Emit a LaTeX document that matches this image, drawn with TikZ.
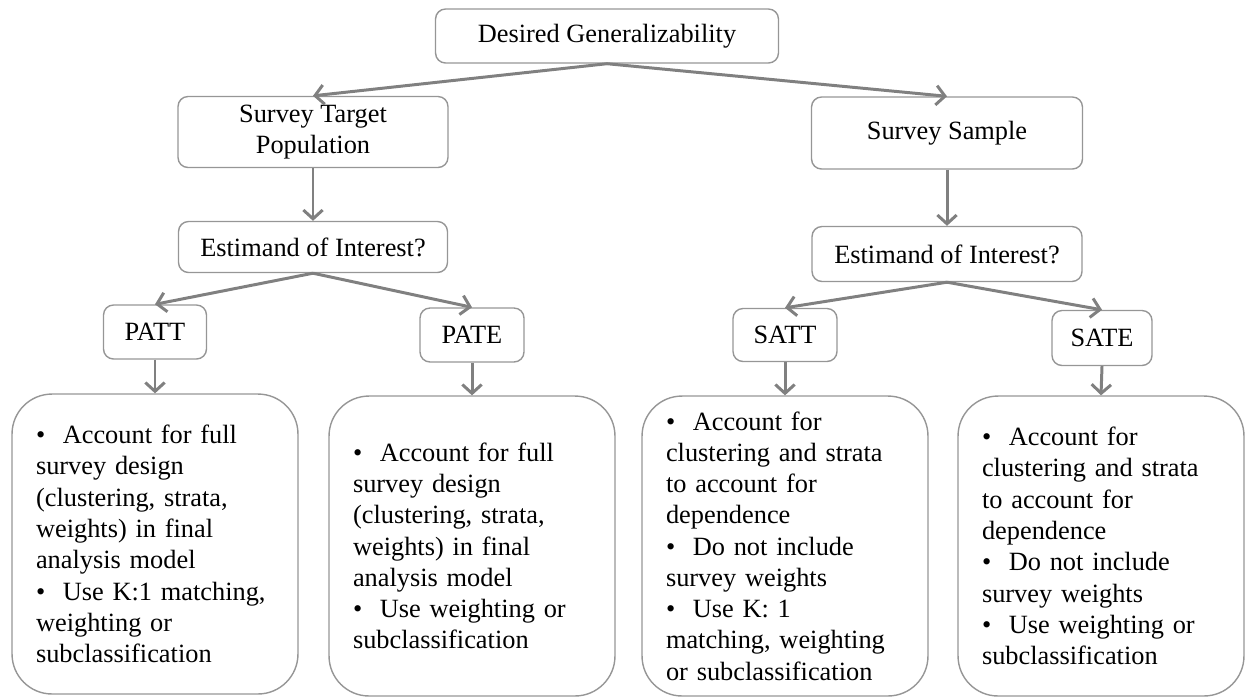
\documentclass[tikz,border=0pt]{standalone}
\usepackage{fontspec}
\setmainfont{Liberation Serif}
\usetikzlibrary{arrows.meta}
\definecolor{linegray}{RGB}{128,128,128}
\definecolor{framegray}{RGB}{150,150,150}
\begin{document}
\begin{tikzpicture}[x=0.02cm,y=-0.02cm,
		every node/.style={font=\fontsize{15}{17.8}\selectfont},
		smallbox/.style={draw=framegray,line width=0.8pt,rounded corners=0.2cm,align=center,inner sep=0pt},
		bigbox/.style={draw=framegray,line width=0.8pt,rounded corners=0.8cm,text width=4.76cm,align=left,inner xsep=0.48cm,inner ysep=0pt,minimum height=6cm},
		conn/.style={draw=linegray,line width=1.7pt,-{Straight Barb[length=5pt,width=11pt]}}]
		\useasboundingbox (0,0) rectangle (1250,698);
		\begin{scope}
			% top levels
			\node[smallbox,minimum width=6.86cm,minimum height=1.08cm] (gen) at (607,36) {Desired Generalizability};
			\node[smallbox,minimum width=5.4cm,minimum height=1.42cm] (stp) at (313,132) {Survey Target\\Population};
			\node[smallbox,minimum width=5.42cm,minimum height=1.44cm] (ss) at (947,133) {Survey Sample};
			\node[smallbox,minimum width=5.38cm,minimum height=1.02cm] (estl) at (313,247) {Estimand of Interest?};
			\node[smallbox,minimum width=5.4cm,minimum height=1.1cm] (estr) at (947,254) {Estimand of Interest?};
			% estimands
			\node[smallbox,minimum width=2.06cm,minimum height=1.08cm] (patt) at (155,332) {PATT};
			\node[smallbox,minimum width=2.08cm,minimum height=1.08cm] (pate) at (472,335) {PATE};
			\node[smallbox,minimum width=2.08cm,minimum height=1.06cm] (satt) at (785,335) {SATT};
			\node[smallbox,minimum width=2.0cm,minimum height=1.1cm] (sate) at (1102,338) {SATE};
			% recommendations
			\node[bigbox] (recpatt) at (155,544) {\textbullet\ \ Account for full\\survey design\\(clustering, strata,\\weights) in final\\analysis model\\\textbullet\ \ Use K:1 matching,\\weighting or\\subclassification};
			\node[bigbox] (recpate) at (472,546) {\textbullet\ \ Account for full\\survey design\\(clustering, strata,\\weights) in final\\analysis model\\\textbullet\ \ Use weighting or\\subclassification};
			\node[bigbox] (recsatt) at (785,546) {\textbullet\ \ Account for\\clustering and strata\\to account for\\dependence\\\textbullet\ \ Do not include\\survey weights\\\textbullet\ \ Use K: 1\\matching, weighting\\or subclassification};
			\node[bigbox] (recsate) at (1101,546) {\textbullet\ \ Account for\\clustering and strata\\to account for\\dependence\\\textbullet\ \ Do not include\\survey weights\\\textbullet\ \ Use weighting or\\subclassification};
			\foreach \a/\b in {gen/stp,gen/ss,stp/estl,ss/estr,estl/patt,estl/pate,estr/satt,estr/sate,patt/recpatt,pate/recpate,satt/recsatt,sate/recsate}
			{
				\draw[conn] (\a.south) -- (\b.north);
			}
		\end{scope}
\end{tikzpicture}
\end{document}
